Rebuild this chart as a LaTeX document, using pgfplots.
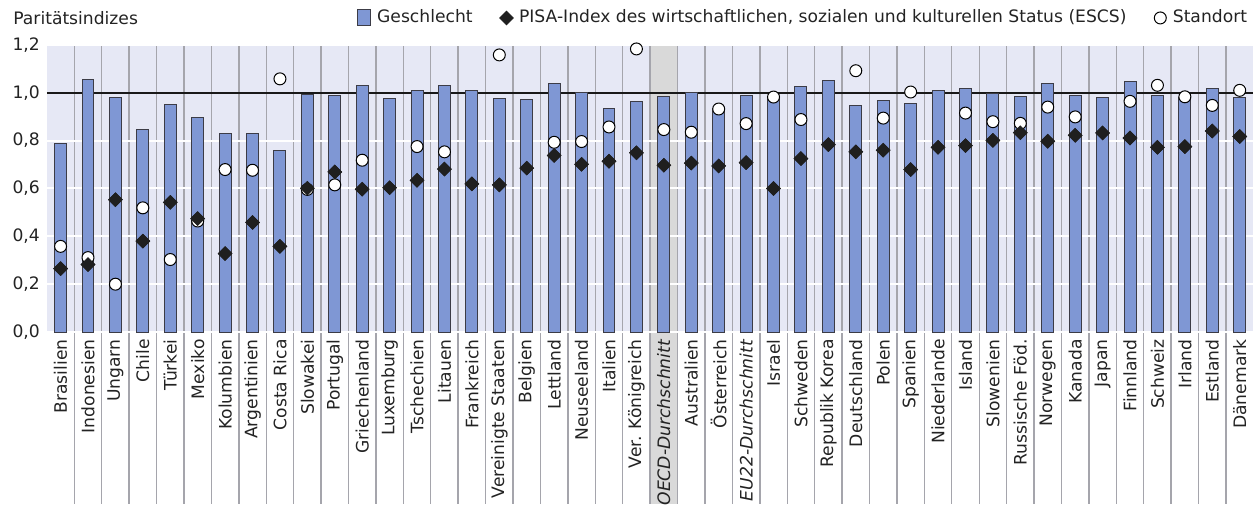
\documentclass[border=0pt]{standalone}
\usepackage{fontspec}
\setmainfont{DejaVu Sans}
\usepackage{pgfplots}
\usepackage{pgfplotstable}
\pgfplotsset{compat=1.18}

\definecolor{barblue}{RGB}{127,151,212}
\definecolor{plotbg}{RGB}{230,232,245}
\definecolor{oecdgray}{RGB}{217,217,217}
\definecolor{sepgray}{RGB}{165,165,172}
\definecolor{baredge}{RGB}{60,60,70}
\definecolor{txt}{RGB}{35,35,35}

\pgfplotsset{
  marklegend/.style={legend image code/.code={%
    \path[draw=none, fill=none] (0pt,0pt) rectangle (8.3pt,0.1pt);
    \draw[##1] plot coordinates {(#1,0pt)};}},
  barlegend/.style={legend image code/.code={%
    \path[draw=none, fill=none] (0pt,0pt) rectangle (8pt,0.1pt);
    \draw[fill=barblue, draw=baredge, line width=0.5pt] (0pt,-4pt) rectangle (6.5pt,4pt);}},
  escsmark/.style={only marks, mark=square*, mark size=2.4pt,
    mark options={rotate=45, fill=black!88, draw=black!88}},
  placemark/.style={only marks, mark=*, mark size=3pt,
    mark options={fill=white, draw=black, line width=0.5pt}},
}

% x = position, gender = Geschlecht, escs = ESCS, place = Standort
\pgfplotstableread{
x gender escs place
0 0.786 0.265 0.358
1 1.057 0.282 0.311
2 0.978 0.553 0.200
3 0.847 0.380 0.519
4 0.950 0.542 0.303
5 0.897 0.474 0.464
6 0.828 0.328 0.679
7 0.831 0.458 0.676
8 0.758 0.358 1.058
9 0.994 0.601 0.596
10 0.988 0.669 0.615
11 1.032 0.597 0.718
12 0.974 0.603 nan
13 1.010 0.634 0.775
14 1.030 0.681 0.753
15 1.008 0.619 nan
16 0.976 0.615 1.158
17 0.971 0.685 nan
18 1.037 0.738 0.793
19 1.000 0.701 0.796
20 0.935 0.714 0.857
21 0.964 0.749 1.183
22 0.985 0.697 0.846
23 1.000 0.706 0.835
24 0.933 0.694 0.932
25 0.988 0.708 0.871
26 0.985 0.600 0.982
27 1.026 0.725 0.888
28 1.053 0.783 nan
29 0.947 0.753 1.092
30 0.969 0.760 0.894
31 0.953 0.679 1.003
32 1.011 0.772 nan
33 1.018 0.779 0.915
34 0.997 0.801 0.879
35 0.985 0.833 0.872
36 1.039 0.797 0.940
37 0.989 0.822 0.899
38 0.978 0.832 nan
39 1.049 0.811 0.964
40 0.990 0.772 1.031
41 0.980 0.775 0.983
42 1.017 0.840 0.947
43 0.982 0.817 1.010
}\datatab

\newcommand{\chartfont}{\fontsize{8.6}{10.2}\selectfont}
\newcommand{\entrygap}{\makebox[11pt]{}}

\begin{document}
\begin{tikzpicture}
\begin{axis}[
    set layers=standard,
    scale only axis,
    width=605pt, height=144pt,
    xmin=-0.5, xmax=43.5,
    ymin=0, ymax=1.2,
    clip=false,
    axis background/.style={fill=plotbg},
    axis line style={draw=none},
    major tick length=0pt,
    ytick={0,0.2,0.4,0.6,0.8,1.0,1.2},
    ymajorgrids,
    grid style={white, line width=1pt},
    xtick={0,...,43},
    xticklabels={Brasilien, Indonesien, Ungarn, Chile, Türkei, Mexiko, Kolumbien,
      Argentinien, Costa Rica, Slowakei, Portugal, Griechenland, Luxemburg,
      Tschechien, Litauen, Frankreich, Vereinigte Staaten, Belgien, Lettland,
      Neuseeland, Italien, Ver. Königreich, \textit{OECD-Durchschnitt}, Australien,
      Österreich, \textit{EU22-Durchschnitt}, Israel, Schweden, Republik Korea,
      Deutschland, Polen, Spanien, Niederlande, Island, Slowenien, Russische Föd.,
      Norwegen, Kanada, Japan, Finnland, Schweiz, Irland, Estland, Dänemark},
    xticklabel style={rotate=90, anchor=east, font=\chartfont, text=txt, inner sep=3.5pt},
    yticklabel style={font=\chartfont, text=txt},
    /pgf/number format/.cd, use comma, fixed, fixed zerofill, precision=1,
      assume math mode=true,
    /pgfplots/.cd,
    legend columns=3,
    legend style={at={(1,1)}, anchor=east, yshift=13.5pt, xshift=2pt,
      draw=none, fill=none, font=\chartfont, text=txt,
      /tikz/column sep=0pt},
]
\begin{pgfonlayer}{axis background}
  \fill[oecdgray] (axis cs:21.5,1.2) rectangle ([yshift=-86pt]axis cs:22.5,0);
  \pgfplotsinvokeforeach{1,...,43}{
    \draw[sepgray, line width=0.7pt] (axis cs:#1-0.5,1.2) -- ([yshift=-86pt]axis cs:#1-0.5,0);
  }
\end{pgfonlayer}
\begin{pgfonlayer}{pre main}
  \draw[black!90, line width=1.1pt] (axis cs:-0.5,1) -- (axis cs:43.5,1);
\end{pgfonlayer}

\addplot[ybar, bar width=6pt, fill=barblue, draw=baredge, line width=0.5pt, barlegend]
  table[x=x, y=gender] {\datatab};
\addlegendentry{Geschlecht\entrygap}

\addplot[escsmark, marklegend=4pt] table[x=x, y=escs] {\datatab};
\addlegendentry{PISA-Index des wirtschaftlichen, sozialen und kulturellen Status (ESCS)\entrygap}

\addplot[placemark, marklegend=4pt] table[x=x, y=place] {\datatab};
\addlegendentry{Standort}

% diamonds again so that they lie over the circles
\addplot[escsmark, forget plot] table[x=x, y=escs] {\datatab};
\end{axis}
\node[anchor=west, inner sep=0pt, font=\chartfont, text=txt] at (-17pt,157.5pt) {Paritätsindizes};
\path (-23.5pt,-86pt) rectangle (605pt,166.5pt);
\end{tikzpicture}
\end{document}
